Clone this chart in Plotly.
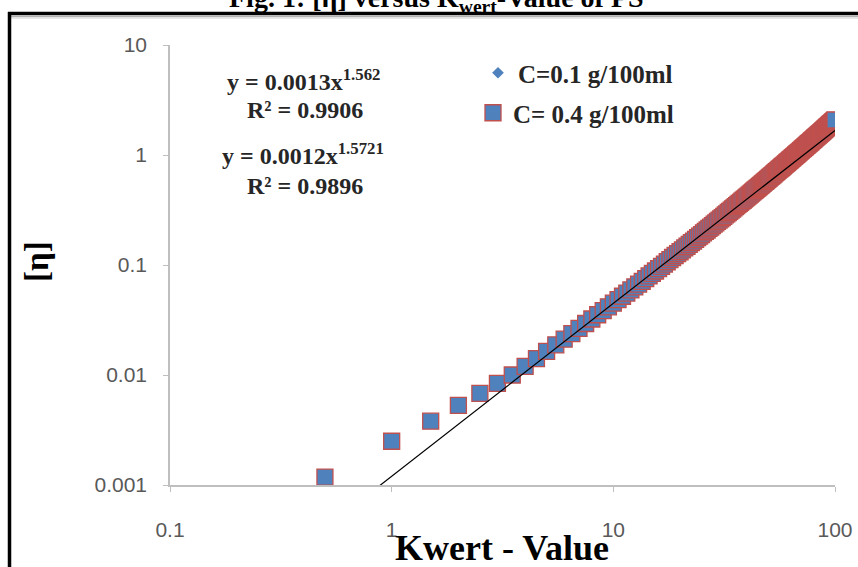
import numpy as np
import plotly.graph_objects as go

# ---------------- data ----------------
kwert_04 = [0.5, 1, 1.5, 2, 2.5, 3, 3.5] + [4 + 0.5 * i for i in range(193)]
eta_04 = [
    0.00118, 0.00250, 0.00380, 0.00530, 0.00680, 0.00840, 0.0100,
    0.0120, 0.0141, 0.0164, 0.0188, 0.0212, 0.0238, 0.0265, 0.0294, 0.0323, 0.0353,
    0.0384, 0.0417, 0.0450, 0.0484, 0.0520, 0.0556, 0.0593, 0.0632, 0.0671, 0.0711,
    0.0753, 0.0795, 0.0838, 0.0882, 0.0927, 0.0973, 0.102, 0.107, 0.112, 0.117,
    0.122, 0.127, 0.132, 0.137, 0.143, 0.148, 0.154, 0.160, 0.165, 0.171,
    0.177, 0.183, 0.189, 0.196, 0.202, 0.208, 0.215, 0.221, 0.228, 0.235,
    0.242, 0.249, 0.256, 0.263, 0.270, 0.277, 0.285, 0.292, 0.300, 0.307,
    0.315, 0.323, 0.331, 0.339, 0.347, 0.355, 0.363, 0.371, 0.380, 0.388,
    0.397, 0.405, 0.414, 0.423, 0.432, 0.441, 0.450, 0.459, 0.469, 0.478,
    0.487, 0.497, 0.506, 0.516, 0.526, 0.536, 0.546, 0.556, 0.566, 0.576,
    0.586, 0.597, 0.607, 0.618, 0.628, 0.639, 0.650, 0.661, 0.672, 0.683,
    0.694, 0.705, 0.716, 0.728, 0.739, 0.751, 0.762, 0.774, 0.786, 0.798,
    0.810, 0.822, 0.834, 0.846, 0.859, 0.871, 0.884, 0.896, 0.909, 0.921,
    0.934, 0.947, 0.960, 0.973, 0.986, 1.000, 1.013, 1.026, 1.040, 1.053,
    1.067, 1.081, 1.095, 1.109, 1.123, 1.137, 1.151, 1.165, 1.179, 1.194,
    1.208, 1.223, 1.238, 1.252, 1.267, 1.282, 1.297, 1.312, 1.327, 1.343,
    1.358, 1.373, 1.389, 1.405, 1.421, 1.437, 1.452, 1.468, 1.485, 1.501,
    1.517, 1.533, 1.550, 1.566, 1.583, 1.599, 1.616, 1.633, 1.650, 1.667,
    1.684, 1.701, 1.718, 1.735, 1.753, 1.770, 1.788, 1.806, 1.823, 1.841,
    1.859, 1.877, 1.895, 1.913, 1.932, 1.950, 1.968, 1.987, 2.006, 2.024,
    2.043, 2.062, 2.081,
]

kwert_01 = [0.5, 1, 1.5, 2, 2.5, 3, 3.5] + list(range(4, 101))
eta_01 = [
    0.00115, 0.00245, 0.00372, 0.00520, 0.00668, 0.00825, 0.00985,
    0.0118, 0.0161, 0.0208, 0.0260, 0.0317, 0.0377, 0.0441, 0.0510, 0.0582, 0.0658,
    0.0738, 0.0822, 0.0909, 0.100, 0.110, 0.120, 0.130, 0.140, 0.151, 0.162,
    0.174, 0.186, 0.198, 0.211, 0.224, 0.237, 0.251, 0.265, 0.279, 0.294,
    0.309, 0.324, 0.340, 0.356, 0.372, 0.389, 0.406, 0.423, 0.441, 0.459,
    0.478, 0.496, 0.515, 0.535, 0.555, 0.575, 0.595, 0.616, 0.637, 0.658,
    0.680, 0.702, 0.724, 0.747, 0.770, 0.794, 0.817, 0.842, 0.866, 0.891,
    0.915, 0.941, 0.966, 0.993, 1.019, 1.046, 1.073, 1.101, 1.128, 1.155,
    1.184, 1.213, 1.242, 1.271, 1.300, 1.331, 1.361, 1.393, 1.423, 1.455,
    1.487, 1.519, 1.551, 1.584, 1.617, 1.650, 1.684, 1.718, 1.752, 1.787,
    1.822, 1.857, 1.893, 1.929, 1.966, 2.002, 2.039,
]

# power-law trendline coefficients as printed on the chart
fit_01 = (0.0013, 1.562, 0.9906)
fit_04 = (0.0012, 1.5721, 0.9896)

x_tick_vals = [0.1, 1, 10, 100]
x_tick_text = ["0.1", "1", "10", "100"]
y_tick_vals = [0.001, 0.01, 0.1, 1, 10]
y_tick_text = ["0.001", "0.01", "0.1", "1", "10"]

# ---------------- figure ----------------
W, H = 858, 567
L, R, T, B = 170, 23, 45, 82
PW, PH = W - L - R, H - T - B


def px(xp):
    return (xp - L) / PW


def py(yp):
    return (H - B - yp) / PH


SERIF = "Liberation Serif, Times New Roman, serif"
SANS = "Liberation Sans, Arial, sans-serif"
BLUE = "#4F81BD"
RED = "#C0504D"

fig = go.Figure()

fig.add_trace(go.Scatter(
    x=kwert_01, y=eta_01, mode="markers", name="<b>C=0.1 g/100ml</b>",
    marker=dict(symbol="diamond", size=9, color=BLUE, line=dict(width=0)),
    legend="legend",
))
fig.add_trace(go.Scatter(
    x=kwert_04, y=eta_04, mode="markers", name="<b>C= 0.4 g/100ml</b>",
    marker=dict(symbol="square", size=16, color=BLUE, line=dict(width=1.3, color=RED)),
    legend="legend2",
))

# the visible black trendline (power fit of C = 0.4 g/100ml)
xfit = np.logspace(np.log10(0.5), 2, 200)
fig.add_trace(go.Scatter(
    x=xfit, y=fit_04[0] * xfit ** fit_04[1], mode="lines", showlegend=False,
    line=dict(color="black", width=1.2), hoverinfo="skip",
))

axis_common = dict(
    type="log", showgrid=False, zeroline=False, showline=True,
    linecolor="#BFBFBF", linewidth=1.5, ticks="outside", ticklen=5,
    tickcolor="#BFBFBF", tickwidth=1, mirror=False,
    tickfont=dict(family=SANS, size=21, color="#595959"),
)

fig.update_xaxes(range=[-1, 2], tickvals=x_tick_vals, ticktext=x_tick_text,
                 ticklabelstandoff=20, **axis_common)
fig.update_yaxes(range=[-3, 1], tickvals=y_tick_vals, ticktext=y_tick_text,
                 ticklabelstandoff=12, **axis_common)

ann = []
eq_font = dict(family=SERIF, size=24, color="#262626")
ann.append(dict(text=f"<b>y = {fit_01[0]}x<sup>{fit_01[1]}</sup></b>", x=px(303), y=py(80), font=eq_font))
ann.append(dict(text=f"<b>R² = {fit_01[2]}</b>", x=px(305), y=py(110), font=eq_font))
ann.append(dict(text=f"<b>y = {fit_04[0]}x<sup>{fit_04[1]}</sup></b>", x=px(303), y=py(154), font=eq_font))
ann.append(dict(text=f"<b>R² = {fit_04[2]}</b>", x=px(305), y=py(186), font=eq_font))
ann.append(dict(text="<b>Kwert - Value</b>", x=px(502), y=py(548),
                font=dict(family=SERIF, size=36, color="black")))
ann.append(dict(text="<b>[η]</b>", x=px(37), y=py(262), textangle=-90,
                font=dict(family=SERIF, size=33, color="black")))
ann.append(dict(text="<b>Fig. 1: [η] versus K<sub>wert</sub>-Value of PS</b>",
                x=px(436), y=py(-1),
                font=dict(family=SERIF, size=28, color="black")))
for a_ in ann:
    a_.update(xref="paper", yref="paper", showarrow=False,
              xanchor="center", yanchor="middle")

shapes = [
    dict(type="line", xref="paper", yref="paper", x0=px(8), x1=px(860),
         y0=py(13.5), y1=py(13.5), line=dict(color="black", width=3.5)),
    dict(type="line", xref="paper", yref="paper", x0=px(11), x1=px(860),
         y0=py(16.5), y1=py(16.5), line=dict(color="#B0B0B0", width=1.5)),
    dict(type="line", xref="paper", yref="paper", x0=px(11), x1=px(860),
         y0=py(18), y1=py(18), line=dict(color="#E0E0E0", width=1.5)),
    dict(type="line", xref="paper", yref="paper", x0=px(9.5), x1=px(9.5),
         y0=py(12), y1=py(570), line=dict(color="black", width=3.5)),
]

leg_font = dict(family=SERIF, size=25, color="#262626")
fig.update_layout(
    width=W, height=H,
    margin=dict(l=L, r=R, t=T, b=B, autoexpand=False),
    paper_bgcolor="white", plot_bgcolor="white",
    annotations=ann, shapes=shapes,
    legend=dict(x=px(478), y=py(73), xanchor="left", yanchor="middle",
                font=leg_font, bgcolor="rgba(0,0,0,0)", borderwidth=0,
                itemsizing="trace"),
    legend2=dict(x=px(473), y=py(113), xanchor="left", yanchor="middle",
                 font=leg_font, bgcolor="rgba(0,0,0,0)", borderwidth=0,
                 itemsizing="trace"),
    showlegend=True,
)

fig.write_html("out.html", config={"displayModeBar": False},
               post_script="document.body.style.margin='0px';")
